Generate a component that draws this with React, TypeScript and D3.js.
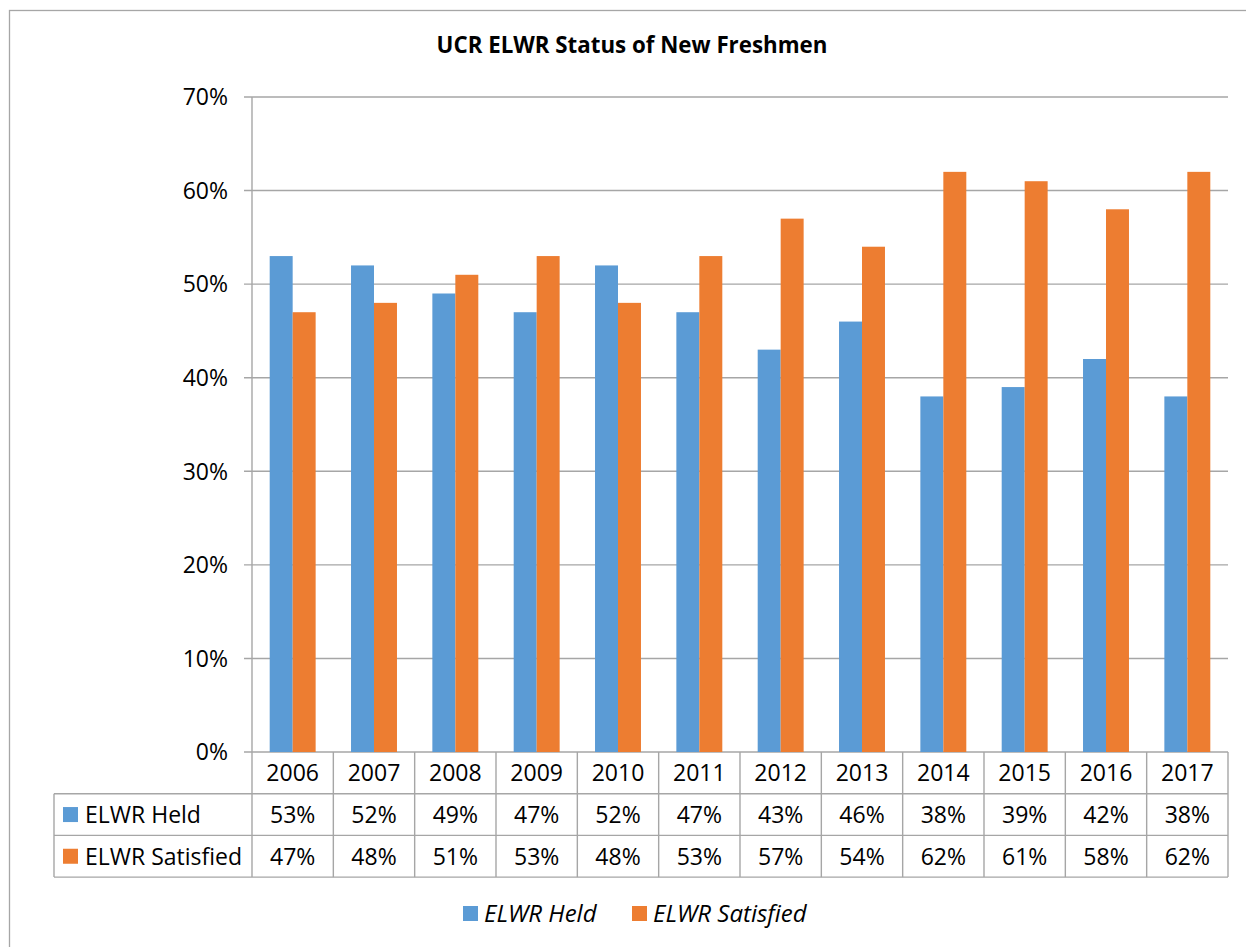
import React from "react";
import * as d3 from "d3";

const years = ["2006", "2007", "2008", "2009", "2010", "2011", "2012", "2013", "2014", "2015", "2016", "2017"];
const seriesNames = ["ELWR Held", "ELWR Satisfied"];
const heldValues = [53, 52, 49, 47, 52, 47, 43, 46, 38, 39, 42, 38];
const satisfiedValues = [47, 48, 51, 53, 48, 53, 57, 54, 62, 61, 58, 62];
const yTicks = [0, 10, 20, 30, 40, 50, 60, 70];

const colors = ["#5B9BD5", "#ED7D31"];
const gridColor = "#A6A6A6";
const font = "'Open Sans', sans-serif";

export default function App() {
  const width = 1246;
  const height = 947;
  const plot = { left: 252, right: 1228, top: 97, bottom: 752 };
  const tableLeft = 54;
  const rowH = 41.7;
  const fs = 23;

  const x = d3.scaleBand<string>().domain(years).range([plot.left, plot.right]).padding(0);
  const xSub = d3
    .scaleBand<string>()
    .domain(seriesNames)
    .range([0, x.bandwidth()])
    .paddingInner(0)
    .paddingOuter(0.77);
  const y = d3.scaleLinear().domain([0, 70]).range([plot.bottom, plot.top]);

  const series = [heldValues, satisfiedValues];
  const rowTop = (i: number) => plot.bottom + rowH * i; // 0 = years row
  const tableBottom = rowTop(3);

  return (
    <svg
      width={width}
      height={height}
      style={{ position: "absolute", left: 0, top: 0, background: "#fff" }}
      fontFamily={font}
    >
      {/* frame */}
      <rect x={9.5} y={10.5} width={width + 10} height={height + 10} fill="#fff" stroke={gridColor} strokeWidth={1.3} />

      <text x={632} y={53} textAnchor="middle" fontSize={22.3} fontWeight="bold" fill="#000">
        UCR ELWR Status of New Freshmen
      </text>

      {/* gridlines + y ticks */}
      {yTicks.map((t) => (
        <g key={t}>
          <line x1={plot.left - 8} x2={plot.right} y1={y(t)} y2={y(t)} stroke={gridColor} strokeWidth={1.4} />
          <text x={228} y={y(t)} dy="0.36em" textAnchor="end" fontSize={fs} fill="#000">
            {t}%
          </text>
        </g>
      ))}
      <line x1={plot.left} x2={plot.left} y1={plot.top} y2={tableBottom} stroke={gridColor} strokeWidth={1.4} />

      {/* bars */}
      {series.map((vals, si) =>
        years.map((yr, i) => (
          <rect
            key={`${si}-${yr}`}
            x={(x(yr) ?? 0) + (xSub(seriesNames[si]) ?? 0)}
            y={y(vals[i])}
            width={xSub.bandwidth()}
            height={plot.bottom - y(vals[i])}
            fill={colors[si]}
          />
        ))
      )}

      {/* data table */}
      <g stroke={gridColor} strokeWidth={1.4}>
        {[1, 2, 3].map((r) => (
          <line key={r} x1={tableLeft} x2={plot.right} y1={rowTop(r)} y2={rowTop(r)} />
        ))}
        {years.map((yr) => (
          <line key={yr} x1={(x(yr) ?? 0) + x.bandwidth()} x2={(x(yr) ?? 0) + x.bandwidth()} y1={plot.bottom} y2={tableBottom} />
        ))}
        <line x1={tableLeft} x2={tableLeft} y1={rowTop(1)} y2={tableBottom} />
      </g>
      {years.map((yr) => (
        <text key={yr} x={(x(yr) ?? 0) + x.bandwidth() / 2} y={rowTop(0) + rowH / 2} dy="0.36em" textAnchor="middle" fontSize={fs}>
          {yr}
        </text>
      ))}
      {series.map((vals, si) => (
        <g key={si}>
          <rect x={63} y={rowTop(si + 1) + rowH / 2 - 7.5} width={15} height={15} fill={colors[si]} />
          <text x={85} y={rowTop(si + 1) + rowH / 2} dy="0.36em" fontSize={fs}>
            {seriesNames[si]}
          </text>
          {years.map((yr, i) => (
            <text
              key={yr}
              x={(x(yr) ?? 0) + x.bandwidth() / 2}
              y={rowTop(si + 1) + rowH / 2}
              dy="0.36em"
              textAnchor="middle"
              fontSize={fs}
            >
              {vals[i]}%
            </text>
          ))}
        </g>
      ))}

      {/* legend */}
      {seriesNames.map((name, si) => {
        const lx = [463, 632][si];
        return (
          <g key={name}>
            <rect x={lx} y={906} width={15} height={15} fill={colors[si]} />
            <text x={lx + 21} y={913.5} dy="0.36em" fontSize={24} fontStyle="italic">
              {name}
            </text>
          </g>
        );
      })}
    </svg>
  );
}
